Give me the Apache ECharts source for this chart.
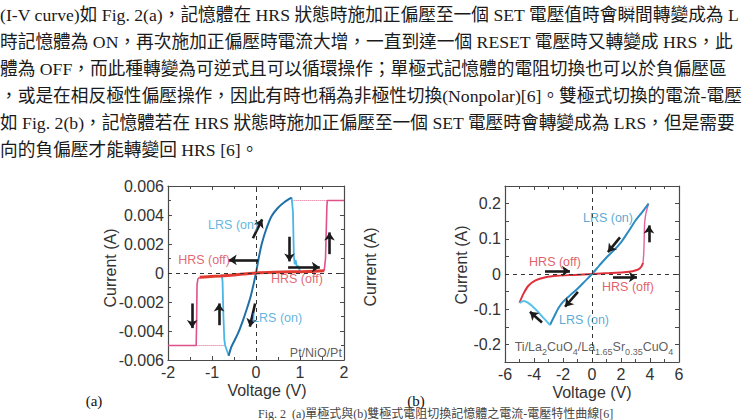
<!DOCTYPE html>
<html><head><meta charset="utf-8">
<script src="https://cdn.jsdelivr.net/npm/echarts@6/dist/echarts.min.js"></script>
<style>html,body{margin:0;padding:0;background:#fff}#c{width:744px;height:420px}</style>
</head><body><div id="c"></div>
<script>
// ---------- page text ----------
const textLines = [
  '(I-V curve)如 Fig. 2(a)，記憶體在 HRS 狀態時施加正偏壓至一個 SET 電壓值時會瞬間轉變成為 L',
  '時記憶體為 ON，再次施加正偏壓時電流大增，一直到達一個 RESET 電壓時又轉變成 HRS，此',
  '體為 OFF，而此種轉變為可逆式且可以循環操作；單極式記憶體的電阻切換也可以於負偏壓區',
  '，或是在相反極性偏壓操作，因此有時也稱為非極性切換(Nonpolar)[6]。雙極式切換的電流-電壓',
  '如 Fig. 2(b)，記憶體若在 HRS 狀態時施加正偏壓至一個 SET 電壓時會轉變成為 LRS，但是需要',
  '向的負偏壓才能轉變回 HRS [6]。'
];
const captionText = 'Fig. 2  (a)單極式與(b)雙極式電阻切換記憶體之電流-電壓特性曲線[6]';
const panelTags = ['(a)', '(b)'];
const xTitle = 'Voltage (V)';
const yTitle = 'Current (A)';

// ---------- chart (a): Pt/NiO/Pt, unipolar ----------
const aXTicks = [-2, -1, 0, 1, 2];
const aYTicks = [-0.006, -0.004, -0.002, 0, 0.002, 0.004, 0.006];
const aHrs = [[-1.28,-0.0003],[-1.1,-0.00026],[-0.8,-0.0002],[-0.5,-0.00013],[-0.2,-0.00005],[0,0],[0.4,0.00005],[0.8,0.00008],[1.2,0.0001],[1.55,0.00015]];
const aCompLeft = [[-2,-0.005],[-1.36,-0.005],[-1.35,-0.0035],[-1.34,-0.0008],[-1.32,-0.0004],[-1.28,-0.0003]];
const aCompRight = [[1.55,0.00015],[1.58,0.001],[1.61,0.0045],[1.62,0.005],[2,0.005]];
const aDotLeft = [[-1.35,-0.005],[-0.7,-0.005]];
const aDotRight = [[0.81,0.005],[1.62,0.005]];
const aLrsLeftJump = [[-0.78,-0.0001],[-0.76,-0.0006],[-0.74,-0.003],[-0.72,-0.0046],[-0.7,-0.005],[-0.62,-0.0057]];
const aLrs = [[-0.62,-0.0057],[-0.56,-0.0051],[-0.48,-0.0046],[-0.4,-0.0041],[-0.3,-0.0033],[-0.2,-0.0024],[-0.12,-0.0016],[-0.05,-0.0007],[0,0],[0.06,0.001],[0.13,0.002],[0.23,0.003],[0.35,0.0039],[0.5,0.0045],[0.65,0.0049],[0.81,0.0052]];
const aLrsRightJump = [[0.81,0.0052],[0.84,0.0042],[0.86,0.0012],[0.88,0.0006],[0.9,0.0009],[0.93,0.0004],[0.96,0.0005],[1.0,0.0001]];
const aArrows = [ // [x0,y0,x1,y1] tail -> head
  [-0.07,0.0024,0.14,0.0037],
  [0.76,0.0025,0.76,0.0008],
  [1.67,0.0013,1.67,0.0028],
  [0.05,0.0009,-0.62,0.0009],
  [0.73,0.0004,1.45,0.0004],
  [-1.45,-0.0021,-1.45,-0.0038],
  [-0.84,-0.0036,-0.84,-0.0021],
  [-0.02,-0.0021,-0.14,-0.0037]
];
const aLrsLabels = [[-0.52,0.0033,'LRS (on)'],[0.48,-0.0031,'LRS (on)']];
const aHrsLabels = [[-1.18,0.0009,'HRS (off)'],[0.93,-0.0004,'HRS (off)']];
const aNote = [[1.36,-0.0055,'Pt/NiO/Pt']];

// ---------- chart (b): Ti/La2CuO4/La1.65Sr0.35CuO4, bipolar ----------
const bXTicks = [-6, -4, -2, 0, 2, 4, 6];
const bYTicks = [-0.2, -0.1, 0, 0.1, 0.2];
const bHrs = [[-5.0,-0.082],[-4.75,-0.058],[-4.4,-0.034],[-3.9,-0.018],[-3.2,-0.009],[-2.4,-0.005],[-1.2,-0.0025],[0,0],[1.2,0.0025],[2.2,0.005],[2.8,0.008],[3.2,0.013],[3.42,0.022],[3.52,0.032]];
const bComp = [[3.52,0.032],[3.57,0.06],[3.6,0.1],[3.63,0.145],[3.72,0.172],[3.9,0.2]];
const bLrs = [[3.9,0.2],[3.5,0.178],[3.0,0.152],[2.5,0.12],[2.0,0.09],[1.5,0.067],[1.0,0.047],[0.5,0.024],[0,0],[-0.5,-0.021],[-1.0,-0.042],[-1.5,-0.06],[-2.0,-0.079],[-2.3,-0.096],[-2.6,-0.12],[-2.9,-0.145]];
const bLrsNeg = [[-2.9,-0.145],[-3.2,-0.131],[-3.5,-0.118],[-3.8,-0.104],[-4.1,-0.092],[-4.4,-0.082],[-4.7,-0.077],[-5.0,-0.082]];
const bArrows = [
  [1.93,0.104,1.1,0.062],
  [3.93,0.09,3.93,0.138],
  [-3.24,0.0085,-1.52,0.0085],
  [1.45,-0.0085,3.1,-0.0085],
  [-0.97,-0.051,-1.86,-0.093],
  [-3.45,-0.138,-4.28,-0.107]
];
const bLrsLabels = [[1.1,0.158,'LRS (on)'],[-0.55,-0.13,'LRS (on)']];
const bHrsLabels = [[-2.55,0.034,'HRS (off)'],[2.48,-0.037,'HRS (off)']];
const bNotePos = [0.14,-0.208];
const bNoteParts = [['Ti/La','2'],['CuO','4'],['/La','1.65'],['Sr','0.35'],['CuO','4']];

// ---------- rendering ----------
const SANS = '"Liberation Sans", Arial, sans-serif';
const SERIF = '"Liberation Serif", "Noto Sans CJK TC", serif';
const AX = '#4a4a4a';

function xAx(grid, mn, mx, iv, pos, labels) {
  return {type:'value', gridIndex:grid, min:mn, max:mx, interval:iv, position:pos,
    axisLine:{show:true, onZero:false, lineStyle:{color:AX, width:1.2}},
    axisTick:{show:true, inside:true, length:4, lineStyle:{color:AX}},
    minorTick:{show:true, splitNumber:2, length:3, lineStyle:{color:AX}},
    splitLine:{show:false}, minorSplitLine:{show:false},
    axisLabel:{show:labels, margin:4, color:'#333', fontSize:16, fontFamily:SANS,
      showMinLabel:true, showMaxLabel:true, hideOverlap:false,
      formatter: v => String(Math.round(v))}};
}
function yAx(grid, mn, mx, iv, pos, labels, fmt, minor) {
  return {type:'value', gridIndex:grid, min:mn, max:mx, interval:iv, position:pos,
    axisLine:{show:true, onZero:false, lineStyle:{color:AX, width:1.2}},
    axisTick:{show:true, inside:true, length:4, lineStyle:{color:AX}},
    minorTick:{show:minor, splitNumber:2, length:3, lineStyle:{color:AX}},
    splitLine:{show:false}, minorSplitLine:{show:false},
    axisLabel:{show:labels, margin:4, color:'#333', fontSize:16, fontFamily:SANS,
      showMinLabel:true, showMaxLabel:true, hideOverlap:false, formatter:fmt}};
}
const fmtA = v => { const r = Math.round(v*1000)/1000; return r === 0 ? '0' : r.toFixed(3); };
const fmtB = v => { const k = Math.round(v*100); if (k % 10 !== 0) return ''; return k === 0 ? '0' : (k/100).toFixed(1); };

function lineS(data, xi, yi, color, width, type, smooth, z) {
  return {type:'line', xAxisIndex:xi, yAxisIndex:yi, data:data, showSymbol:false, symbol:'none',
    smooth:smooth, silent:true, z:z||2, lineStyle:{color:color, width:width, type:type||'solid'}};
}
function zeroLines(s) {
  s.markLine = {silent:true, symbol:['none','none'], label:{show:false},
    lineStyle:{color:'#333', width:1, type:[4,4]}, data:[{xAxis:0},{yAxis:0}]};
  return s;
}
function withArrows(s, arr) {
  s.markLine = {silent:true, symbol:['none','arrow'], symbolSize:8, label:{show:false},
    lineStyle:{color:'#1b1b1b', width:2.6, type:'solid'},
    data: arr.map(a => [{coord:[a[0],a[1]]},{coord:[a[2],a[3]]}])};
  return s;
}
function labelS(arr, xi, yi, color, size) {
  return {type:'scatter', xAxisIndex:xi, yAxisIndex:yi, symbolSize:0, silent:true, z:10,
    data: arr.map(d => ({value:[d[0],d[1]], name:d[2]})),
    label:{show:true, position:'inside', formatter: p => p.name, color:color, fontSize:size, fontFamily:SANS}};
}

const bNoteRich = bNoteParts.map(p => '{n|' + p[0] + '}{s|' + p[1] + '}').join('');

const graphics = [];
textLines.forEach((t, i) => {
  graphics.push({type:'text', x:0, y:15 + i*27, silent:true,
    style:{text:t, font:'17.7px ' + SERIF, fill:'#1a1a1a', verticalAlign:'middle', align:'left'}});
});
graphics.push({type:'text', x:258, y:414, silent:true,
  style:{text:captionText, font:'12px ' + SERIF, fill:'#444', verticalAlign:'middle', align:'left'}});
graphics.push({type:'text', x:94, y:400.5, silent:true,
  style:{text:panelTags[0], font:'15px ' + SERIF, fill:'#111', verticalAlign:'middle', align:'center'}});
graphics.push({type:'text', x:416, y:400.5, silent:true,
  style:{text:panelTags[1], font:'15px ' + SERIF, fill:'#111', verticalAlign:'middle', align:'center'}});
[[267,390],[592,392]].forEach(p => graphics.push({type:'text', x:p[0], y:p[1], silent:true,
  style:{text:xTitle, font:'16px ' + SANS, fill:'#333', verticalAlign:'middle', align:'center'}}));
[[110,268],[370,267],[461,265]].forEach(p => graphics.push({type:'text', x:p[0], y:p[1], rotation:Math.PI/2, silent:true,
  style:{text:yTitle, font:'16px ' + SANS, fill:'#333', verticalAlign:'middle', align:'center'}}));

const chart = echarts.init(document.getElementById('c'), null, {renderer:'svg', width:744, height:420});
chart.setOption({
  animation:false,
  backgroundColor:'#fff',
  grid:[
    {left:168, top:186, width:176, height:174, containLabel:false, outerBoundsMode:'none'},
    {left:505, top:186, width:174, height:176, containLabel:false, outerBoundsMode:'none'}
  ],
  xAxis:[
    xAx(0, aXTicks[0], aXTicks[aXTicks.length-1], 1, 'bottom', true),
    xAx(0, aXTicks[0], aXTicks[aXTicks.length-1], 1, 'top', false),
    xAx(1, bXTicks[0], bXTicks[bXTicks.length-1], 2, 'bottom', true),
    xAx(1, bXTicks[0], bXTicks[bXTicks.length-1], 2, 'top', false)
  ],
  yAxis:[
    yAx(0, aYTicks[0], aYTicks[aYTicks.length-1], 0.002, 'left', true, fmtA, true),
    yAx(0, aYTicks[0], aYTicks[aYTicks.length-1], 0.002, 'right', false, fmtA, true),
    yAx(1, -0.25, 0.25, 0.05, 'left', true, fmtB, false),
    yAx(1, -0.25, 0.25, 0.05, 'right', false, fmtB, false)
  ],
  series:[
    // chart a
    zeroLines(lineS(aDotLeft, 0, 0, '#e0608e', 1, 'dotted', false, 1)),
    lineS(aDotRight, 0, 0, '#e0608e', 1, 'dotted', false, 1),
    lineS(aCompLeft, 0, 0, '#e0508a', 1.6, 'solid', false, 2),
    lineS(aCompRight, 0, 0, '#e0508a', 1.6, 'solid', false, 2),
    lineS(aLrsLeftJump, 0, 0, '#4ab6e6', 1.8, 'solid', false, 3),
    lineS(aLrsRightJump, 0, 0, '#4ab6e6', 1.8, 'solid', false, 3),
    withArrows(lineS(aLrs, 0, 0, '#1f70a8', 2, 'solid', 0.3, 3), aArrows),
    lineS(aHrs, 0, 0, '#e23a30', 3, 'solid', 0.3, 4),
    labelS(aLrsLabels, 0, 0, '#3aa2d8', 12.5),
    labelS(aHrsLabels, 0, 0, '#d9404c', 12.5),
    labelS(aNote, 0, 0, '#333', 12.5),
    // chart b
    zeroLines(lineS(bHrs, 2, 2, '#e0303c', 2, 'solid', 0.3, 3)),
    lineS(bComp, 2, 2, '#e8609a', 1.4, 'solid', 0.3, 2),
    withArrows(lineS(bLrs, 2, 2, '#2a8cc2', 2, 'solid', 0.3, 3), bArrows),
    lineS(bLrsNeg, 2, 2, '#58c2ea', 2, 'solid', 0.3, 3),
    labelS(bLrsLabels, 2, 2, '#2f93c8', 12.5),
    labelS(bHrsLabels, 2, 2, '#d9363f', 12.5),
    {type:'scatter', xAxisIndex:2, yAxisIndex:2, symbolSize:0, silent:true, z:10,
     data:[{value:bNotePos, name:bNoteParts.map(p => p[0] + p[1]).join('')}],
     label:{show:true, position:'inside', formatter: () => bNoteRich,
       rich:{n:{fontSize:12.5, fontFamily:SANS, color:'#333', lineHeight:18, verticalAlign:'middle'},
             s:{fontSize:9, fontFamily:SANS, color:'#333', lineHeight:9, verticalAlign:'bottom'}}}}
  ],
  graphic: graphics
});
</script></body></html>
